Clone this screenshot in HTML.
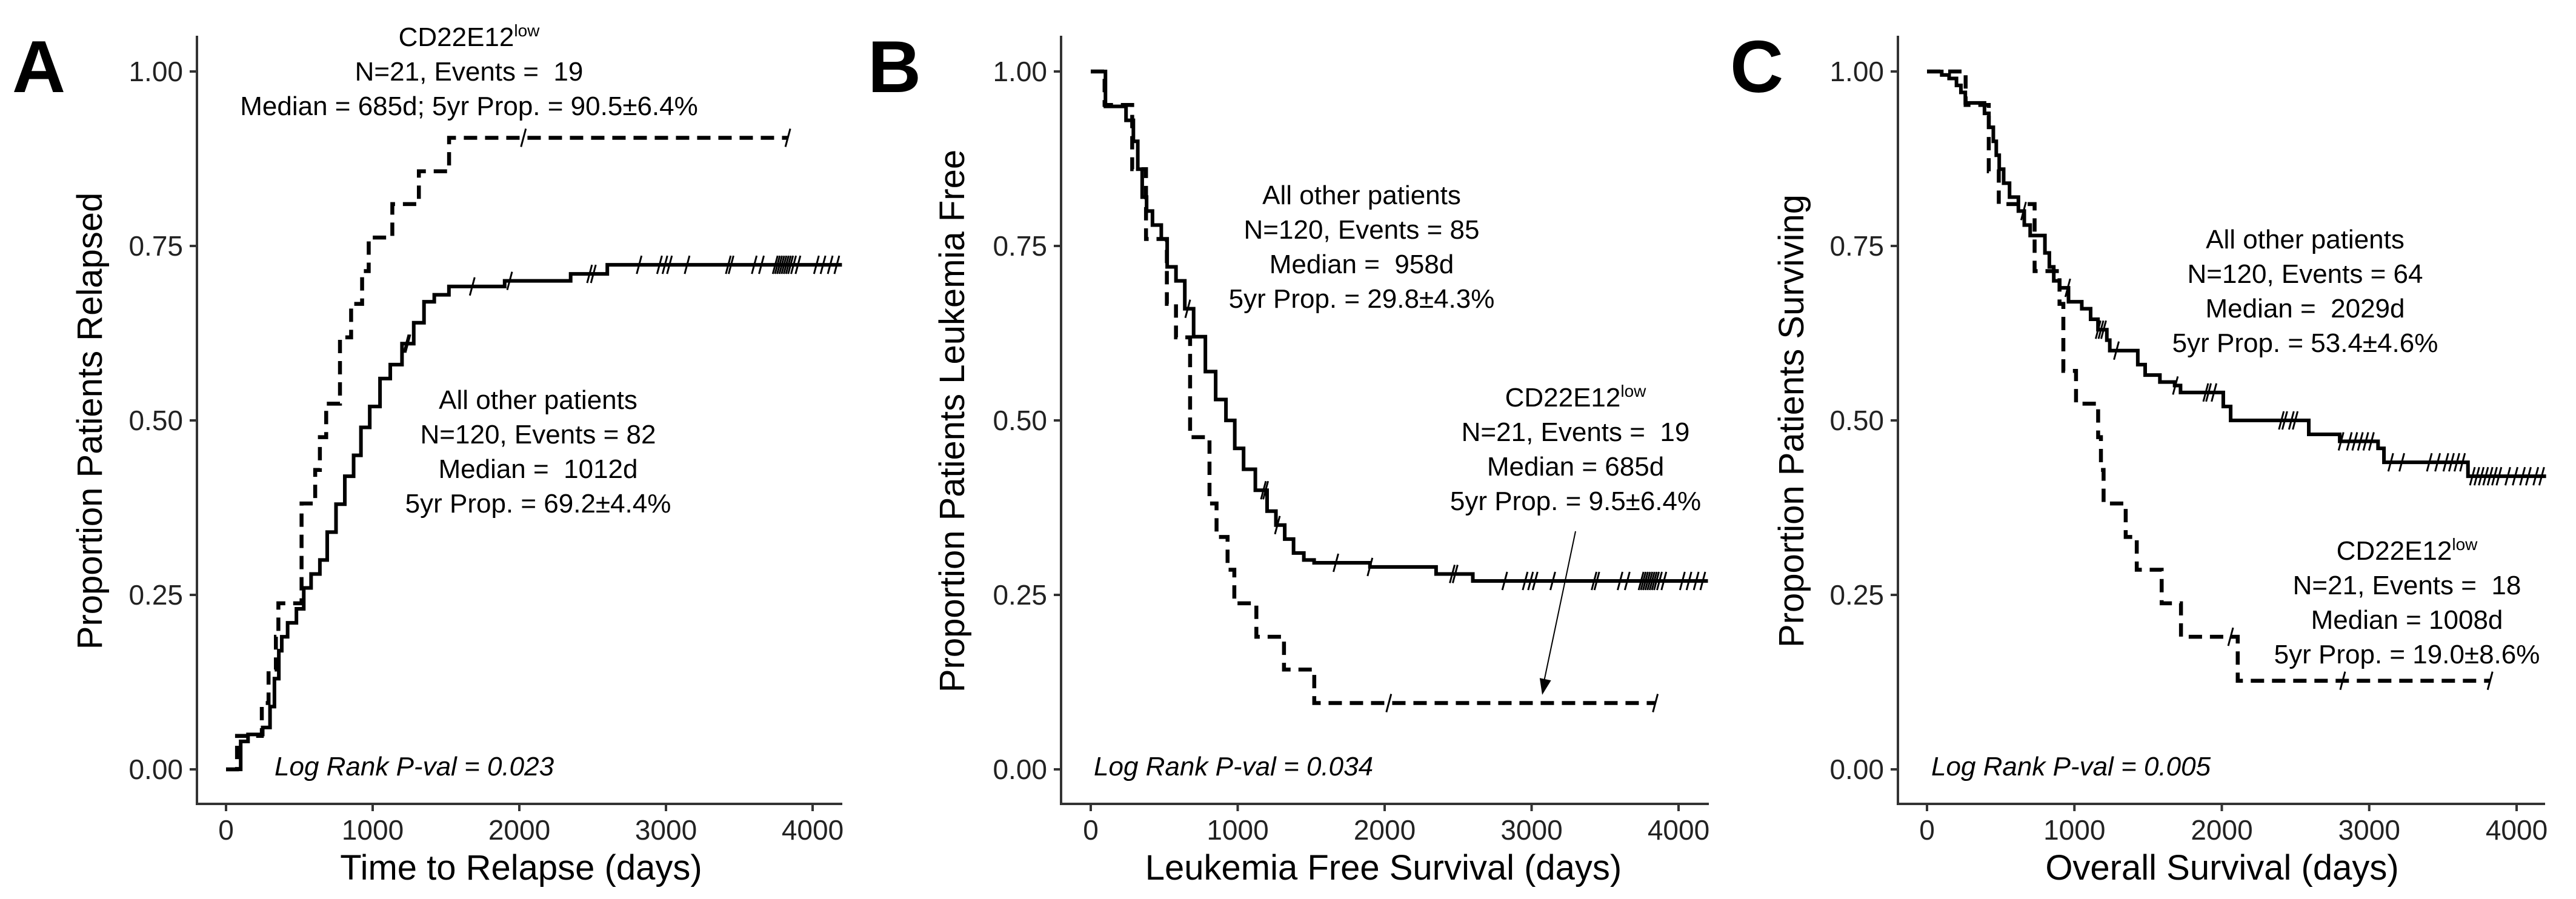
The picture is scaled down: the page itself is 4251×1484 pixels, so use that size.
<!DOCTYPE html>
<html><head><meta charset="utf-8"><style>
html,body{margin:0;padding:0;background:#fff;}
svg{display:block;font-family:"Liberation Sans",Arial,sans-serif;}
svg text{white-space:pre;}
</style></head><body>
<svg id="fig" width="4251" height="1484" viewBox="0 0 4251 1484" xmlns="http://www.w3.org/2000/svg"></svg>
<script>
// ---- Panel A data (cumulative relapse) ----
const aLowT = [0,75,244,290,340,357,515,515,515,608,640,683,777,777,853,928,973,1134,1315,1521,3831];
const aLowV = [0,0.048,0.095,0.143,0.19,0.238,0.286,0.333,0.381,0.429,0.476,0.524,0.571,0.619,0.667,0.714,0.762,0.81,0.857,0.905,0.905];
const aLowCens = [2028,3831];
const aOthT = [0,100,150,250,300,330,360,380,420,480,530,580,640,690,750,810,870,920,980,1050,1120,1200,1280,1350,1420,1520,1900,2350,2600,4200];
const aOthV = [0,0.04,0.05,0.06,0.09,0.13,0.17,0.19,0.21,0.23,0.26,0.28,0.30,0.34,0.38,0.42,0.45,0.49,0.52,0.56,0.58,0.61,0.64,0.67,0.68,0.692,0.70,0.71,0.723,0.723];
const aOthCens = [1228,1240,1679,1934,2479,2505,2817,2956,2993,3024,3144,3425,3444,3602,3651,3745,3760,3775,3790,3805,3820,3835,3850,3870,3900,4026,4071,4120,4165];
// ---- Panel B data (leukemia free) ----
const bLowT = [0,94,282,376,518,580,676,808,856,931,977,1127,1315,1521,3842];
const bLowV = [1,0.952,0.86,0.76,0.667,0.619,0.476,0.381,0.333,0.286,0.238,0.19,0.143,0.095,0.095];
const bLowCens = [2028,3842];
const bOthT = [0,100,200,240,290,320,350,380,420,480,520,580,640,700,780,850,920,980,1040,1120,1200,1260,1320,1380,1450,1520,1900,2350,2600,4200];
const bOthV = [1,0.95,0.95,0.93,0.90,0.86,0.82,0.80,0.78,0.76,0.72,0.70,0.66,0.62,0.57,0.53,0.50,0.46,0.43,0.40,0.37,0.35,0.33,0.31,0.30,0.296,0.29,0.28,0.27,0.27];
const bOthCens = [660,1175,1190,1270,1668,1900,2460,2480,2817,2956,2993,3024,3144,3425,3444,3602,3651,3745,3760,3775,3790,3805,3820,3835,3850,3870,3900,4026,4071,4120,4165];
// ---- Panel C data (overall survival) ----
const cLowT = [0,262,419,487,730,899,925,1011,1161,1180,1198,1348,1423,1592,1723,2108,3820];
const cLowV = [1,0.952,0.857,0.81,0.714,0.667,0.571,0.524,0.476,0.429,0.381,0.333,0.286,0.238,0.19,0.127,0.127];
const cLowCens = [2060,2820,3820];
const cOthT = [0,100,150,200,230,260,390,420,450,470,490,520,560,620,660,700,800,830,860,900,960,1050,1110,1160,1220,1240,1430,1480,1580,1680,1720,2010,2060,2590,2800,3060,3100,3670,4200];
const cOthV = [1,0.995,0.99,0.98,0.97,0.955,0.94,0.92,0.90,0.88,0.86,0.84,0.82,0.80,0.78,0.765,0.74,0.72,0.70,0.69,0.67,0.66,0.645,0.63,0.615,0.60,0.58,0.565,0.555,0.55,0.54,0.52,0.50,0.48,0.47,0.46,0.44,0.42,0.42];
const cOthCens = [655,955,1161,1180,1198,1285,1685,1891,1910,1947,2404,2427,2472,2498,2809,2865,2902,2940,2977,3015,3146,3221,3408,3464,3520,3558,3595,3633,3700,3730,3760,3790,3820,3850,3880,3940,3990,4040,4080,4130,4170];

const xTicks = [0,1000,2000,3000,4000];
const yTicks = [0,0.25,0.5,0.75,1];
const yTickLabels = ["0.00","0.25","0.50","0.75","1.00"];

const NS = "http://www.w3.org/2000/svg";
const svg = document.getElementById('fig');
function mk(tag, attrs, parent){const e=document.createElementNS(NS,tag);for(const k in attrs)e.setAttribute(k,attrs[k]);(parent||svg).appendChild(e);return e;}

const panels = [
 {id:'a',letter:'A',lx:20,axX:325,x0:373,x4:1341,right:1390,ytitle:'Proportion Patients Relapsed',ytx:168,xtitle:'Time to Relapse (days)',xtx:860,
  low:[aLowT,aLowV,aLowCens],oth:[aOthT,aOthV,aOthCens],logx:453,logtxt:'Log Rank P-val = 0.023',
  notes:[{cx:774,y:76,lines:['CD22E12|low','N=21, Events =  19','Median = 685d; 5yr Prop. = 90.5±6.4%'],name:'cd22-low-annotation'},
         {cx:888,y:675,lines:['All other patients','N=120, Events = 82','Median =  1012d','5yr Prop. = 69.2±4.4%'],name:'other-patients-annotation'}]},
 {id:'b',letter:'B',lx:1432,axX:1751,x0:1800,x4:2770,right:2820,ytitle:'Proportion Patients Leukemia Free',ytx:1591,xtitle:'Leukemia Free Survival (days)',xtx:2283,
  low:[bLowT,bLowV,bLowCens],oth:[bOthT,bOthV,bOthCens],logx:1805,logtxt:'Log Rank P-val = 0.034',
  notes:[{cx:2247,y:337,lines:['All other patients','N=120, Events = 85','Median =  958d','5yr Prop. = 29.8±4.3%'],name:'other-patients-annotation'},
         {cx:2600,y:671,lines:['CD22E12|low','N=21, Events =  19','Median = 685d','5yr Prop. = 9.5±6.4%'],name:'cd22-low-annotation'}],
  arrow:[2600,877,2545,1147]},
 {id:'c',letter:'C',lx:2855,axX:3132,x0:3180,x4:4153,right:4200,ytitle:'Proportion Patients Surviving',ytx:2976,xtitle:'Overall Survival (days)',xtx:3667,
  low:[cLowT,cLowV,cLowCens],oth:[cOthT,cOthV,cOthCens],logx:3187,logtxt:'Log Rank P-val = 0.005',
  notes:[{cx:3804,y:410,lines:['All other patients','N=120, Events = 64','Median =  2029d','5yr Prop. = 53.4±4.6%'],name:'other-patients-annotation'},
         {cx:3972,y:924,lines:['CD22E12|low','N=21, Events =  18','Median = 1008d','5yr Prop. = 19.0±8.6%'],name:'cd22-low-annotation'}]}
];
const Y0=1270, Y1=118, AXB=1327, AXT=59;
function sy(v){return Y0-(Y0-Y1)*v;}

panels.forEach(p=>{
  const g=mk('g',{});
  
  
  const sx=d=>p.x0+(p.x4-p.x0)*d/4000;
  const L=mk('text',{x:p.lx,y:152,'font-size':122,'font-weight':'bold',fill:'#000'},g);L.textContent=p.letter;
  
  
  const ax=mk('path',{d:`M${p.axX},${AXT} L${p.axX},${AXB} L${p.right},${AXB}`,fill:'none',stroke:'#333','stroke-width':4},g);
  
  
  yTicks.forEach((v,i)=>{
    mk('line',{x1:p.axX-12,x2:p.axX,y1:sy(v),y2:sy(v),stroke:'#333','stroke-width':4},g);
    const t=mk('text',{x:p.axX-23,y:sy(v)+16,'font-size':46,'text-anchor':'end',fill:'#222'},g);t.textContent=yTickLabels[i];
    
    
  });
  xTicks.forEach(d=>{
    mk('line',{x1:sx(d),x2:sx(d),y1:AXB,y2:AXB+12,stroke:'#333','stroke-width':4},g);
    const t=mk('text',{x:sx(d),y:1386,'font-size':46,'text-anchor':'middle',fill:'#222'},g);t.textContent=String(d);
    
    
  });
  const yt=mk('text',{x:p.ytx,y:695,'font-size':58,'text-anchor':'middle',fill:'#000',transform:`rotate(-90 ${p.ytx} 695)`},g);yt.textContent=p.ytitle;
  
  
  const xt=mk('text',{x:p.xtx,y:1452,'font-size':58,'text-anchor':'middle',fill:'#000'},g);xt.textContent=p.xtitle;
  
  
  function curve(arr,dash,name){
    const [T,V,C]=arr;
    let d=`M${sx(T[0])},${sy(V[0])}`;
    for(let i=1;i<T.length;i++){d+=` L${sx(T[i])},${sy(V[i-1])} L${sx(T[i])},${sy(V[i])}`;}
    const pth=mk('path',{d:d,fill:'none',stroke:'#000','stroke-width':dash?6.5:6,'stroke-dasharray':dash?'22 13':'none'},g);
    
    
    C.forEach(c=>{
      let v=V[0];for(let i=0;i<T.length;i++){if(T[i]<=c)v=V[i];}
      const x=sx(c),y=sy(v);
      const m=mk('line',{x1:x-4,y1:y+15,x2:x+4,y2:y-15,stroke:'#000','stroke-width':3},g);
      
      
    });
  }
  curve(p.oth,false,'other-patients');
  curve(p.low,true,'cd22-low');
  p.notes.forEach(n=>{
    const tg=mk('g',{},g);
    
    
    n.lines.forEach((ln,i)=>{
      const t=mk('text',{x:n.cx,y:n.y+i*57,'font-size':44,'text-anchor':'middle',fill:'#000'},tg);
      if(ln.indexOf('|')>=0){const [a,b]=ln.split('|');t.textContent=a;const s=mk('tspan',{'font-size':28,dy:-16},t);s.textContent=b;}
      else t.textContent=ln;
    });
  });
  if(p.arrow){
    const [x1,y1,x2,y2]=p.arrow;
    const a=mk('line',{x1:x1,y1:y1,x2:x2,y2:y2-8,stroke:'#000','stroke-width':2},g);
    
    
    const ang=Math.atan2(y2-y1,x2-x1);
    const hx=x2,hy=y2,l=28,w=0.35;
    mk('polygon',{points:`${hx},${hy} ${hx-l*Math.cos(ang-w)},${hy-l*Math.sin(ang-w)} ${hx-l*Math.cos(ang+w)},${hy-l*Math.sin(ang+w)}`,fill:'#000'},g);
  }
  const lr=mk('text',{x:p.logx,y:1280,'font-size':44,'font-style':'italic',fill:'#000'},g);lr.textContent=p.logtxt;
  
  
});
</script>
</body></html>
